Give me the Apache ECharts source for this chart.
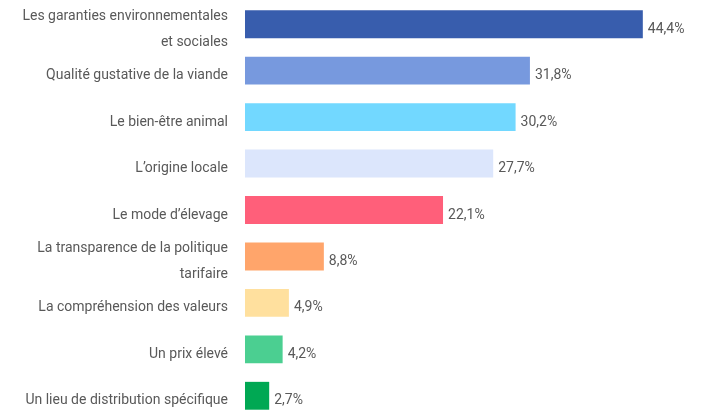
<!DOCTYPE html>
<html><head><meta charset="utf-8">
<script src="https://cdn.jsdelivr.net/npm/echarts@6/dist/echarts.min.js"></script>
<style>html,body{margin:0;padding:0;background:#fff}#c{width:703px;height:411px}</style>
</head><body><div id="c"></div>
<script>
const categories = [
  "Les garanties environnementales\net sociales",
  "Qualité gustative de la viande",
  "Le bien-être animal",
  "L’origine locale",
  "Le mode d’élevage",
  "La transparence de la politique\ntarifaire",
  "La compréhension des valeurs",
  "Un prix élevé",
  "Un lieu de distribution spécifique"
];
const values = [44.4, 31.8, 30.2, 27.7, 22.1, 8.8, 4.9, 4.2, 2.7];
const colors = ["#385DAD", "#7799DE", "#72D8FF", "#DCE6FC", "#FF5F7A", "#FFA56B", "#FFE09E", "#4BCF91", "#00A853"];

const chart = echarts.init(document.getElementById('c'));
chart.setOption({
  animation: false,
  grid: [
    { left: 245, width: 448, top: 1, height: 418, containLabel: false, outerBoundsMode: 'none' },
    { left: 245, width: 448, top: 6, height: 418, containLabel: false, outerBoundsMode: 'none' }
  ],
  xAxis: [
    { type: 'value', min: 0, max: 50, show: false, gridIndex: 0 },
    { type: 'value', min: 0, max: 50, show: false, gridIndex: 1 }
  ],
  yAxis: [
    { type: 'category', inverse: true, data: categories, gridIndex: 0,
      axisLine: { show: false }, axisTick: { show: false }, axisLabel: { show: false } },
    { type: 'category', inverse: true, data: categories, gridIndex: 1,
      axisLine: { show: false }, axisTick: { show: false }, splitLine: { show: false },
      axisLabel: { show: true, interval: 0, margin: 17, color: '#595959', fontFamily: 'Roboto', fontSize: 14, lineHeight: 26, align: 'right' } }
  ],
  series: [{
    type: 'bar', barCategoryGap: '40%', xAxisIndex: 0, yAxisIndex: 0,
    data: values.map((v, i) => ({ value: v, itemStyle: { color: colors[i] } })),
    label: { show: true, position: 'right', distance: 5, offset: [0, 5], color: '#595959', fontFamily: 'Roboto', fontSize: 14,
      formatter: p => p.value.toFixed(1).replace('.', ',') + '%' }
  }]
});
</script></body></html>
